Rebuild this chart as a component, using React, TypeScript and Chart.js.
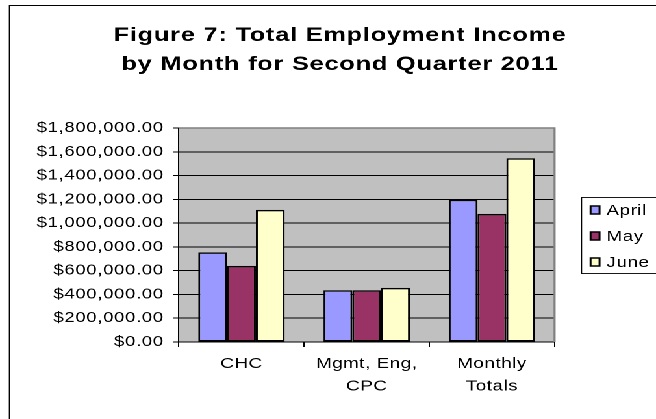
import React, { useEffect, useRef } from "react";
import { Chart, registerables } from "chart.js";

Chart.register(...registerables);

const titleLines = ["Figure 7: Total Employment Income", "by Month for Second Quarter 2011"];
const categories: (string | string[])[] = ["CHC", ["Mgmt, Eng,", "CPC"], ["Monthly", "Totals"]];
const seriesNames = ["April", "May", "June"];
const april = [754000, 435000, 1196000];
const may = [640000, 435000, 1078000];
const june = [1111000, 455000, 1546000];
const seriesColors = ["#9999FF", "#993366", "#FFFFCC"];
const yMin = 0;
const yMax = 1800000;
const yStep = 200000;

// The reference is a horizontally stretched chart: draw at a narrower width and stretch.
const STRETCH = 1.3;
const OUT_W = 656;
const OUT_H = 419;
const W = Math.round(OUT_W / STRETCH);
const sx = (x: number) => x / STRETCH;

const FONT = "'Liberation Sans', Arial, sans-serif";
const TEXT_SPACING = "0.4px";

function fmtMoney(v: number): string {
  const s = Math.round(v).toString().replace(/\B(?=(\d{3})+(?!\d))/g, ",");
  return "$" + s + ".00";
}

const spacingPlugin = {
  id: "spacing",
  beforeUpdate(chart: any) {
    chart.ctx.letterSpacing = TEXT_SPACING;
  },
  beforeDraw(chart: any) {
    chart.ctx.letterSpacing = TEXT_SPACING;
  },
};

const framePlugin = {
  id: "frame",
  beforeDraw(chart: any) {
    const { ctx, chartArea } = chart;
    ctx.save();
    ctx.fillStyle = "#ffffff";
    ctx.fillRect(0, 0, chart.width, chart.height);
    ctx.strokeStyle = "#000000";
    ctx.lineWidth = 1;
    ctx.strokeRect(sx(9.5), 5.5, 700, 500);
    ctx.fillStyle = "#C0C0C0";
    ctx.fillRect(chartArea.left, chartArea.top, chartArea.right - chartArea.left, chartArea.bottom - chartArea.top);
    ctx.restore();
    // title
    ctx.save();
    ctx.fillStyle = "#000000";
    ctx.font = "bold 19.5px " + FONT;
    ctx.letterSpacing = "0.6px";
    ctx.textBaseline = "alphabetic";
    ctx.textAlign = "left";
    const cx = sx(340);
    const baselines = [41, 70];
    titleLines.forEach((line, i) => {
      const w = ctx.measureText(line).width - 0.6;
      ctx.fillText(line, cx - w / 2, baselines[i]);
    });
    ctx.restore();
  },
  afterDatasetsDraw(chart: any) {
    const { ctx, chartArea } = chart;
    ctx.save();
    ctx.strokeStyle = "#808080";
    ctx.lineWidth = 1.6;
    ctx.beginPath();
    ctx.moveTo(chartArea.left, chartArea.top);
    ctx.lineTo(chartArea.right, chartArea.top);
    ctx.lineTo(chartArea.right, chartArea.bottom);
    ctx.stroke();
    ctx.restore();
  },
  afterDraw(chart: any) {
    const { ctx } = chart;
    ctx.save();
    const bx = sx(582);
    ctx.fillStyle = "#ffffff";
    ctx.fillRect(bx, 197, 100, 76);
    ctx.strokeStyle = "#000000";
    ctx.lineWidth = 0.9;
    ctx.strokeRect(bx, 197.5, 100, 76);
    chart.data.datasets.forEach((ds: any, i: number) => {
      const cy = 210 + 26 * i;
      const swx = sx(591);
      const sw = sx(9);
      ctx.fillStyle = ds.backgroundColor;
      ctx.fillRect(swx, cy - 4, sw, 8);
      ctx.strokeStyle = "#000000";
      ctx.lineWidth = 1.5;
      ctx.strokeRect(swx, cy - 4, sw, 8);
      ctx.fillStyle = "#000000";
      ctx.font = "14.5px " + FONT;
      ctx.letterSpacing = TEXT_SPACING;
      ctx.textBaseline = "middle";
      ctx.textAlign = "left";
      ctx.fillText(ds.label, sx(607), cy + 1);
    });
    ctx.restore();
  },
};

export default function App() {
  const ref = useRef<HTMLCanvasElement>(null);
  useEffect(() => {
    if (!ref.current) return;
    const chart = new Chart(ref.current, {
      type: "bar",
      data: {
        labels: categories,
        datasets: [april, may, june].map((d, i) => ({
          label: seriesNames[i],
          data: d,
          backgroundColor: seriesColors[i],
          borderColor: "#000000",
          borderWidth: 1.5,
          borderSkipped: false,
          categoryPercentage: 0.69,
          barPercentage: 1.0,
        })),
      },
      options: {
        animation: false,
        responsive: false,
        devicePixelRatio: 2,
        layout: { padding: { top: 128, right: W - sx(555), bottom: 0, left: 0 } },
        plugins: {
          legend: { display: false },
          title: { display: false },
          tooltip: { enabled: false },
        },
        scales: {
          x: {
            afterFit(scale: any) {
              scale.height = 77;
            },
            grid: {
              drawOnChartArea: false,
              drawTicks: true,
              tickLength: 5,
              color: "#000000",
              offset: true,
            },
            border: { color: "#000000", width: 1 },
            ticks: {
              color: "#000000",
              font: { family: FONT, size: 14.5, lineHeight: 1.55 },
              padding: 6,
              maxRotation: 0,
              autoSkip: false,
            },
          },
          y: {
            min: yMin,
            max: yMax,
            afterFit(scale: any) {
              scale.width = sx(179);
            },
            grid: {
              color: "#000000",
              lineWidth: 1,
              tickLength: sx(6),
            },
            border: { color: "#000000", width: 1 },
            ticks: {
              stepSize: yStep,
              color: "#000000",
              font: { family: FONT, size: 14.5 },
              padding: 7,
              callback: (v: any) => fmtMoney(Number(v)),
            },
          },
        },
      },
      plugins: [spacingPlugin, framePlugin],
    });
    return () => chart.destroy();
  }, []);
  return (
    <div
      style={{
        position: "absolute",
        left: 0,
        top: 0,
        width: W,
        height: OUT_H,
        background: "#fff",
        transform: `scaleX(${OUT_W / W})`,
        transformOrigin: "0 0",
      }}
    >
      <canvas ref={ref} width={W} height={OUT_H} />
    </div>
  );
}
